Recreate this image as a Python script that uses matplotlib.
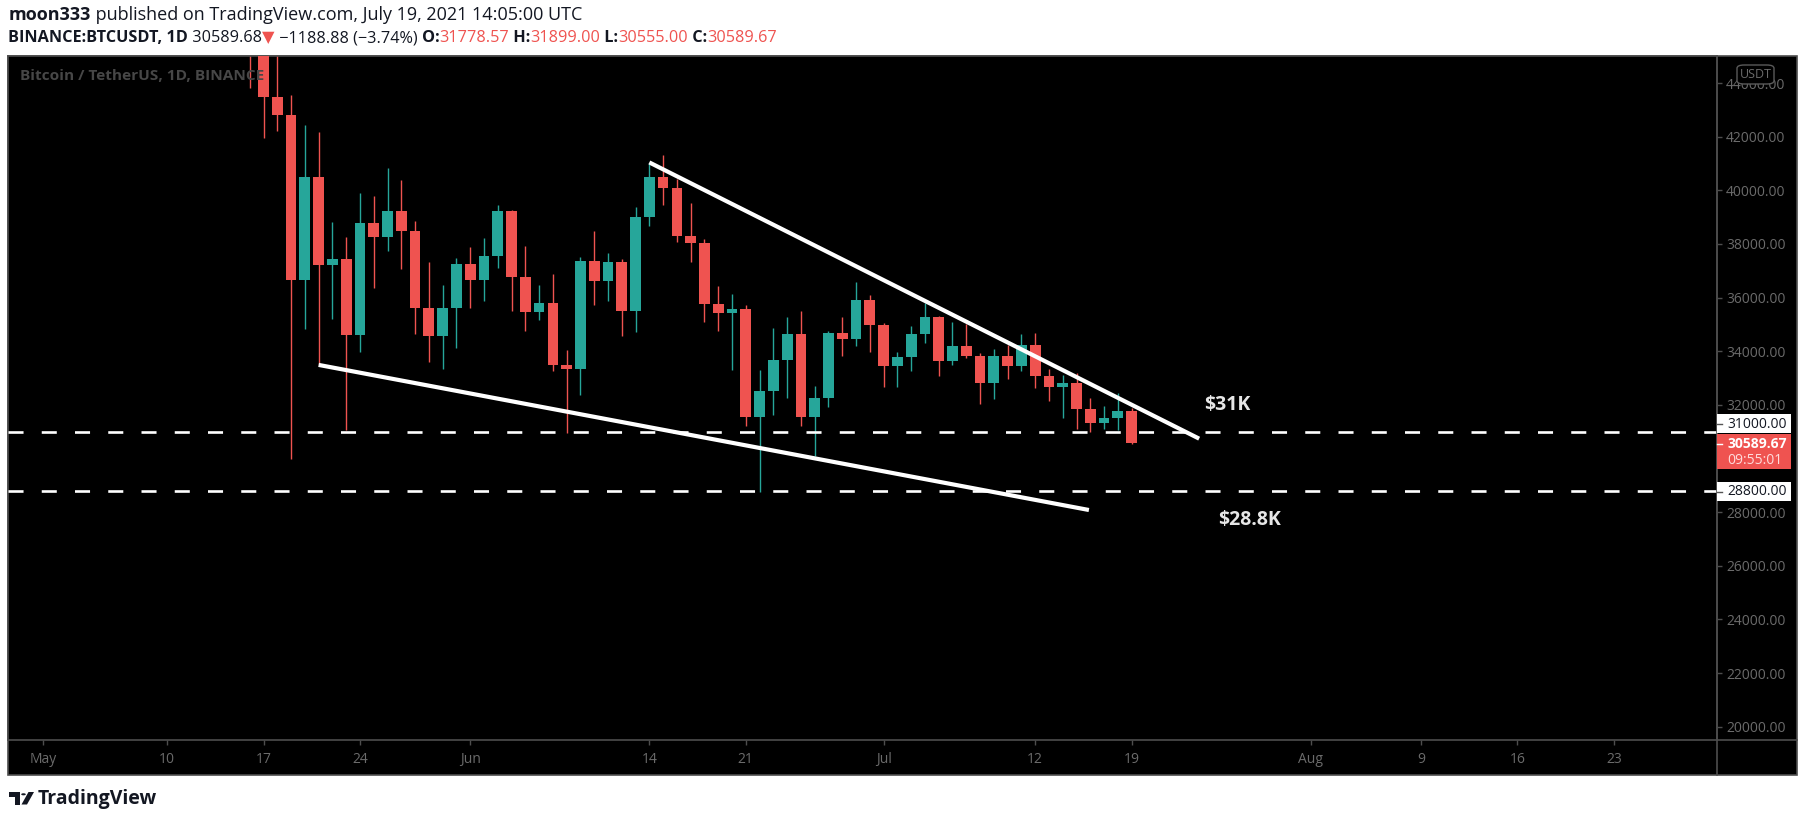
import matplotlib.pyplot as plt
import numpy as np
import pandas as pd
from matplotlib.patches import Rectangle, FancyBboxPatch, Circle, Polygon
from matplotlib.lines import Line2D

W, H = 1805, 822

# daily candles, BINANCE:BTCUSDT 1D
dates = pd.date_range("2021-05-16", "2021-07-19", freq="D")
opens = [48900, 46420, 43490, 42820, 36650, 40500, 37210, 37440, 34600, 38780,
         38260, 39230, 38480, 35620, 34570, 35610, 37250, 36660, 37550, 39230,
         36770, 35460, 35800, 33490, 33340, 37360, 36620, 37330, 35500, 39000,
         40500, 40090, 38300, 38040, 35760, 35430, 35570, 31550, 32500, 33670,
         34640, 31550, 32250, 34680, 34460, 35910, 34980, 33450, 33790, 34640,
         35280, 33640, 34200, 33840, 32820, 33820, 33450, 34230, 33060, 32670,
         32810, 31860, 31340, 31500, 31778.57]
highs = [49800, 46700, 45800, 43550, 42430, 42170, 38820, 38260, 39890, 39790,
         40830, 40380, 38860, 37330, 36470, 37480, 37890, 38220, 39450, 39260,
         37920, 36470, 36880, 34050, 37510, 38500, 37660, 37440, 39380, 41010,
         41320, 40410, 39530, 38190, 36430, 36130, 35720, 33300, 34870, 35280,
         35500, 32700, 34750, 35280, 36580, 36100, 35050, 33970, 34940, 35800,
         35300, 35090, 35020, 33930, 34080, 34230, 34640, 34680, 33340, 33110,
         33190, 32260, 31960, 32440, 31899.00]
lows = [43800, 41960, 42220, 29970, 34820, 33490, 35190, 31060, 33980, 36360,
        37740, 37070, 34640, 33600, 33340, 34120, 35610, 35870, 37100, 35500,
        34750, 35160, 33260, 30960, 32370, 35720, 35870, 34570, 34720, 38670,
        39450, 38070, 37330, 35090, 34750, 33300, 31210, 28750, 31620, 32260,
        31210, 30090, 31920, 33820, 34200, 33970, 32670, 32670, 33260, 34310,
        33080, 33490, 33750, 32030, 32220, 32960, 33260, 32630, 32140, 31510,
        31100, 30990, 31100, 31060, 30555.00]
closes = [46420, 43490, 42820, 36650, 40500, 37210, 37440, 34600, 38780, 38260,
          39230, 38480, 35620, 34570, 35610, 37250, 36660, 37550, 39230, 36770,
          35460, 35800, 33490, 33340, 37360, 36620, 37330, 35500, 39000, 40500,
          40090, 38300, 38040, 35760, 35430, 35570, 31550, 32500, 33670, 34640,
          31550, 32250, 34680, 34460, 35910, 34980, 33450, 33790, 34640, 35280,
          33640, 34200, 33840, 32820, 33820, 33450, 34230, 33060, 32670, 32810,
          31860, 31340, 31500, 31780, 30589.67]

# drawn trendlines (days after 1 May) and horizontal levels
upper_x = [44.0, 83.9]
upper_y = [41040, 30740]
lower_x = [20.0, 75.9]
lower_y = [33490, 28080]
levels = [31000, 28800]
level_labels = ["$31K", "$28.8K"]

x_tick_dates = ["2021-05-01", "2021-05-10", "2021-05-17", "2021-05-24", "2021-06-01",
                "2021-06-14", "2021-06-21", "2021-07-01", "2021-07-12", "2021-07-19",
                "2021-08-01", "2021-08-09", "2021-08-16", "2021-08-23"]
x_tick_labels = ["May", "10", "17", "24", "Jun", "14", "21", "Jul", "12", "19",
                 "Aug", "9", "16", "23"]
y_ticks = list(range(20000, 44001, 2000))

RED = "#ef5350"
GREEN = "#26a69a"
GRID = "#4d4d4d"
TXT = "#6b6b6b"
FONT = ["Open Sans", "DejaVu Sans"]

t0 = pd.Timestamp("2021-05-01")
xs = np.array([(d - t0).days for d in dates], dtype=float)
o, h, l, c = map(np.array, (opens, highs, lows, closes))


def fx(px):
    return px / W


def fy(py):
    return 1 - py / H


fig = plt.figure(figsize=(W / 100, H / 100), dpi=100)
fig.patch.set_facecolor("white")

# black frame behind axes (price scale + time scale)
fig.add_artist(Rectangle((fx(8.3), fy(775)), fx(1797 - 8.3), (775 - 55.7) / H,
                         transform=fig.transFigure, facecolor="black",
                         edgecolor=GRID, lw=1.2, zorder=-5))

ax = fig.add_axes([fx(8.3), fy(740.3), fx(1717 - 8.3), (740.3 - 55.7) / H])
ax.set_facecolor("black")
ax.set_xlim(-2.52, 121.48)
ax.set_ylim(19493, 45019)
for s in ax.spines.values():
    s.set_color(GRID)
    s.set_linewidth(1.2)

# candles
up = c >= o
cols = np.where(up, GREEN, RED)
ax.vlines(xs, l, h, colors=cols, lw=1.0, zorder=2)
body_lo = np.minimum(o, c)
body_h = np.maximum(np.abs(c - o), 25)
ax.bar(xs, body_h, bottom=body_lo, width=0.78, color=cols, lw=0, zorder=3)

# trendlines
ax.plot(upper_x, upper_y, color="white", lw=3.0, solid_capstyle="butt", zorder=5)
ax.plot(lower_x, lower_y, color="white", lw=3.0, solid_capstyle="butt", zorder=5)
for lv in levels:
    ax.axhline(lv, color="white", lw=1.9, ls=(0, (5.7, 6.9)), zorder=4)

ax.text(84.25, 32000, level_labels[0], color="#e6e6e6", fontsize=14,
        fontweight="bold", family=FONT, va="center", ha="left", zorder=6)
ax.text(85.3, 27710, level_labels[1], color="#e6e6e6", fontsize=14,
        fontweight="bold", family=FONT, va="center", ha="left", zorder=6)

# axes ticks
ax.set_xticks([(pd.Timestamp(d) - t0).days for d in x_tick_dates])
ax.set_xticklabels(x_tick_labels)
ax.set_yticks(y_ticks)
ax.set_yticklabels([f"{v:.2f}" for v in y_ticks])
ax.yaxis.tick_right()
ax.tick_params(axis="y", direction="out", length=3.5, width=1, color=GRID,
               labelcolor=TXT, labelsize=10, pad=3)
ax.tick_params(axis="x", direction="out", length=3.5, width=1, color=GRID,
               labelcolor=TXT, labelsize=10, pad=5)
for lab in ax.get_xticklabels() + ax.get_yticklabels():
    lab.set_family(FONT)

# watermark
ax.text(0.0068, 0.97, "Bitcoin / TetherUS, 1D, BINANCE", transform=ax.transAxes,
        color="#474747", fontsize=11.1, fontweight="bold", family=FONT,
        va="center", ha="left", zorder=7)

# separators
fig.add_artist(Line2D([fx(1717), fx(1717)], [fy(55.7), fy(775)], color=GRID, lw=1.2))
fig.add_artist(Line2D([fx(1717), fx(1797)], [fy(740.3), fy(740.3)], color=GRID, lw=1.2))

# USDT badge
fig.add_artist(FancyBboxPatch((fx(1737), fy(84)), fx(37), 19 / H,
                              boxstyle="round,pad=0,rounding_size=0.004",
                              transform=fig.transFigure, facecolor="black",
                              edgecolor="#5a5a5a", lw=1, zorder=5))
fig.text(fx(1755.5), fy(74), "USDT", color=TXT, fontsize=9, family=FONT,
         ha="center", va="center", zorder=6)


def price_label(y0, y1, ytick, lines, face):
    fig.add_artist(Rectangle((fx(1717), fy(y1)), fx(74), (y1 - y0) / H,
                             transform=fig.transFigure, facecolor=face,
                             edgecolor="none", zorder=5))
    fig.add_artist(Line2D([fx(1717), fx(1722)], [fy(ytick), fy(ytick)],
                          color="#555555" if face == "white" else "white",
                          lw=1, zorder=6))
    for ty, txt, col, wt in lines:
        fig.text(fx(1727.5), fy(ty), txt, color=col, fontsize=10, family=FONT,
                 fontweight=wt, ha="left", va="center", zorder=7)


price_label(414.3, 432.7, 424, [(424, "31000.00", "#131722", "normal")], "white")
price_label(434.3, 469, 444, [(444, f"{closes[-1]:.2f}", "white", "bold"),
                              (460.7, "09:55:01", "#ffdcdc", "normal")], RED)
price_label(482.3, 500.7, 491.7, [(491.7, "28800.00", "#131722", "normal")], "white")

# header lines
renderer = fig.canvas.get_renderer()


def text_run(x, y, parts, size):
    for txt, col, wt in parts:
        t = fig.text(fx(x), fy(y), txt, color=col, fontsize=size, fontweight=wt,
                     family=FONT, ha="left", va="center")
        x += t.get_window_extent(renderer).width


text_run(8.3, 15.5, [("moon333", "#131722", "bold"),
                     (" published on TradingView.com, July 19, 2021 14:05:00 UTC",
                      "#131722", "normal")], 13)
text_run(8.3, 38.5, [("BINANCE:BTCUSDT, 1D", "#131722", "bold"),
                     (" 30589.68", "#131722", "normal"),
                     ("▼", RED, "normal"),
                     (" \u22121188.88 (\u22123.74%) ", "#131722", "normal"),
                     ("O:", "#131722", "bold"), ("31778.57", RED, "normal"),
                     (" H:", "#131722", "bold"), ("31899.00", RED, "normal"),
                     (" L:", "#131722", "bold"), ("30555.00", RED, "normal"),
                     (" C:", "#131722", "bold"), ("30589.67", RED, "normal")], 11.7)

# TradingView logo
fig.add_artist(Polygon([[fx(8.5), fy(792)], [fx(19.5), fy(792)], [fx(19.5), fy(804.5)],
                        [fx(14.5), fy(804.5)], [fx(14.5), fy(796.5)], [fx(8.5), fy(796.5)]],
                       closed=True, transform=fig.transFigure, facecolor="#131722",
                       edgecolor="none"))
fig.add_artist(Circle((fx(23.5), fy(794.3)), 2.3 / W, transform=fig.transFigure,
                      facecolor="#131722", edgecolor="none"))
fig.add_artist(Polygon([[fx(28.5), fy(792)], [fx(34), fy(792)], [fx(27), fy(804.5)],
                        [fx(21.5), fy(804.5)]], closed=True, transform=fig.transFigure,
                       facecolor="#131722", edgecolor="none"))
fig.text(fx(38), fy(798.5), "TradingView", color="#131722", fontsize=14,
         fontweight="bold", family=FONT, ha="left", va="center")

fig.savefig("out.png", dpi=100, facecolor=fig.get_facecolor())
